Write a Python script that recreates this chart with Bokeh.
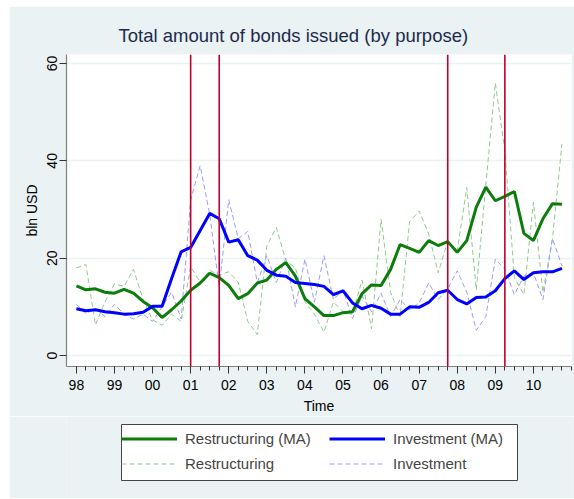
import numpy as np
from bokeh.plotting import figure
from bokeh.models import (FixedTicker, Span, Legend, LegendItem, ColumnDataSource, Spacer,
                          BoxAnnotation)
from bokeh.layouts import row, column
from bokeh.embed import file_html
from bokeh.resources import INLINE

# ---- data (quarterly, 1998Q1 .. 2010Q4), bln USD ----
years = list(range(1998, 2011))
tick_labels = ["98", "99", "00", "01", "02", "03", "04", "05", "06", "07", "08", "09", "10"]

restructuring_ma = [14.3, 13.5, 13.7, 13.0, 12.8, 13.6, 12.8, 11.1, 9.8, 7.8, 9.4, 11.2,
                    13.4, 14.9, 16.9, 16.0, 14.4, 11.7, 12.7, 14.9, 15.5, 17.7, 19.1, 16.3,
                    11.7, 10.0, 8.2, 8.2, 8.8, 9.0, 12.7, 14.5, 14.4, 17.7, 22.8, 22.0,
                    21.2, 23.6, 22.6, 23.4, 21.2, 23.6, 30.5, 34.6, 31.8, 32.7, 33.7, 25.1,
                    23.6, 28.1, 31.2, 31.1]
investment_ma = [9.6, 9.2, 9.4, 9.0, 8.8, 8.5, 8.6, 8.9, 10.1, 10.1, 15.8, 21.3,
                 22.2, 25.7, 29.2, 28.1, 23.3, 23.8, 20.5, 19.6, 17.5, 16.5, 16.3, 15.0,
                 14.8, 14.6, 14.2, 12.5, 13.3, 10.8, 9.6, 10.3, 9.7, 8.5, 8.5, 10.0,
                 9.9, 10.9, 12.9, 13.4, 11.5, 10.6, 11.9, 12.0, 13.3, 15.8, 17.4, 15.6,
                 17.0, 17.2, 17.2, 17.9]
restructuring = [18.0, 18.7, 6.3, 11.0, 14.7, 14.2, 17.7, 11.5, 7.3, 6.2, 8.5, 7.0,
                 18.3, 15.0, 17.5, 16.5, 17.2, 15.0, 7.0, 4.3, 22.5, 26.3, 19.5, 18.0,
                 11.0, 8.5, 4.8, 11.0, 9.0, 8.5, 15.5, 5.5, 28.0, 13.0, 8.0, 27.5,
                 29.7, 25.0, 17.0, 23.5, 21.5, 34.5, 13.5, 35.0, 56.0, 42.0, 16.0, 12.5,
                 31.5, 13.0, 24.0, 43.5]
investment = [10.5, 8.6, 9.6, 8.0, 10.5, 8.5, 7.5, 8.5, 7.0, 10.0, 13.0, 7.5,
              32.0, 39.0, 29.0, 14.0, 32.0, 24.0, 25.5, 15.0, 20.5, 15.0, 20.0, 10.0,
              19.8, 11.0, 20.5, 11.5, 13.5, 7.6, 12.2, 9.0, 12.8, 8.0, 11.5, 9.4,
              10.8, 14.9, 11.5, 13.7, 17.4, 13.0, 5.2, 8.0, 19.8, 17.7, 12.5, 16.3,
              17.0, 11.5, 24.0, 18.4]
events = [2001.0, 2001.75, 2007.75, 2009.25]
y_ticks = [0, 20, 40, 60]

quarters = [y + q * 0.25 for y in years for q in range(4)]

src = ColumnDataSource(dict(x=quarters, rma=restructuring_ma, ima=investment_ma,
                            r=restructuring, i=investment))

BG = "#eaf2f3"
C_RMA, C_IMA, C_R, C_I = "#0b7d0b", "#0000ff", "#8fca8f", "#9a9cff"

p = figure(width=565, height=410, output_backend="svg", toolbar_location=None,
           x_range=(1997.74, 2011.0), y_range=(-2.26, 61.85),
           min_border_left=57, min_border_right=3, min_border_top=48, min_border_bottom=50,
           background_fill_color="white", border_fill_color=BG, outline_line_color=None,
           title="Total amount of bonds issued (by purpose)")

p.title.align = "left"
p.title.offset = 52
p.title.standoff = 17
p.title.text_font = "Liberation Sans"
p.title.text_font_size = "18.5px"
p.title.text_font_style = "normal"
p.title.text_color = "#1c2b4b"

# grid
p.xgrid.visible = False
p.ygrid.ticker = FixedTicker(ticks=y_ticks)
p.ygrid.grid_line_color = BG
p.ygrid.grid_line_width = 1.5

# axes
p.xaxis.ticker = FixedTicker(ticks=years, minor_ticks=quarters + [2011.0])
p.xaxis.major_label_overrides = {yr: lab for yr, lab in zip(years, tick_labels)}
p.yaxis.ticker = FixedTicker(ticks=y_ticks)
p.yaxis.major_label_orientation = "vertical"
for ax in (p.xaxis, p.yaxis):
    ax.axis_line_color = "#808080"
    ax.axis_line_width = 1.2
    ax.major_tick_line_color = "#333333"
    ax.minor_tick_line_color = "#333333"
    ax.major_tick_out = 7
    ax.major_tick_in = 0
    ax.minor_tick_out = 4
    ax.minor_tick_in = 0
    ax.major_label_text_font = "Liberation Sans"
    ax.major_label_text_font_size = "14px"
    ax.major_label_text_color = "#000000"
    ax.axis_label_text_font = "Liberation Sans"
    ax.axis_label_text_font_size = "14px"
    ax.axis_label_text_font_style = "normal"
    ax.axis_label_text_color = "#000000"
p.yaxis.minor_tick_line_color = None
p.xaxis.major_label_standoff = 6
p.xaxis.axis_label = "Time"
p.yaxis.axis_label = "bln USD"
p.xaxis.axis_label_standoff = 5
p.yaxis.major_label_standoff = 2
p.yaxis.axis_label_standoff = 5

# raw series (dashed)
p.line("x", "r", source=src, line_color=C_R, line_width=1, line_dash="5 3")
p.line("x", "i", source=src, line_color=C_I, line_width=1, line_dash="5 3")
# moving averages
p.line("x", "rma", source=src, line_color=C_RMA, line_width=3)
p.line("x", "ima", source=src, line_color=C_IMA, line_width=3)

for ev in events:
    p.add_layout(Span(location=ev, dimension="height", line_color="#c0002e", line_width=1.6))

# ---- legend panel (separate strip under the chart) ----
lg = figure(width=565, height=82, output_backend="svg", toolbar_location=None,
            min_border=0, background_fill_color=BG, border_fill_color=BG,
            outline_line_color=None, x_range=(0, 1), y_range=(0, 1))
lg.axis.visible = False
lg.grid.visible = False


def swatch(**kw):
    # legend-only renderer: a single NaN point draws nothing in the strip
    s = ColumnDataSource(dict(x=np.array([np.nan]), y=np.array([np.nan])))
    return lg.line("x", "y", source=s, **kw)


g_rma = swatch(line_color=C_RMA, line_width=3)
g_ima = swatch(line_color=C_IMA, line_width=3)
g_r = swatch(line_color=C_R, line_width=1, line_dash="5 3")
g_i = swatch(line_color=C_I, line_width=1, line_dash="5 3")

# legend frame (screen units, relative to the strip's frame)
lg.add_layout(BoxAnnotation(left=55, right=451, bottom=18, top=74,
                            left_units="screen", right_units="screen",
                            top_units="screen", bottom_units="screen",
                            fill_color="white", fill_alpha=1,
                            line_color="#444444", line_width=1, line_alpha=1))

common = dict(label_text_font="Liberation Sans", label_text_font_size="15px",
              glyph_width=56, glyph_height=17, label_height=17,
              label_standoff=8, spacing=8, padding=7, margin=0,
              border_line_color=None, background_fill_alpha=0)
leg1 = Legend(items=[LegendItem(label="Restructuring (MA)", renderers=[g_rma]),
                     LegendItem(label="Restructuring", renderers=[g_r])],
              location=(55, 26), **common)
leg2 = Legend(items=[LegendItem(label="Investment (MA)", renderers=[g_ima]),
                     LegendItem(label="Investment", renderers=[g_i])],
              location=(263, 26), **common)
lg.add_layout(leg1, "center")
lg.add_layout(leg2, "center")

layout = row(Spacer(width=9), column(Spacer(height=6), p, lg))
open("out.html", "w").write(file_html(layout, INLINE))
